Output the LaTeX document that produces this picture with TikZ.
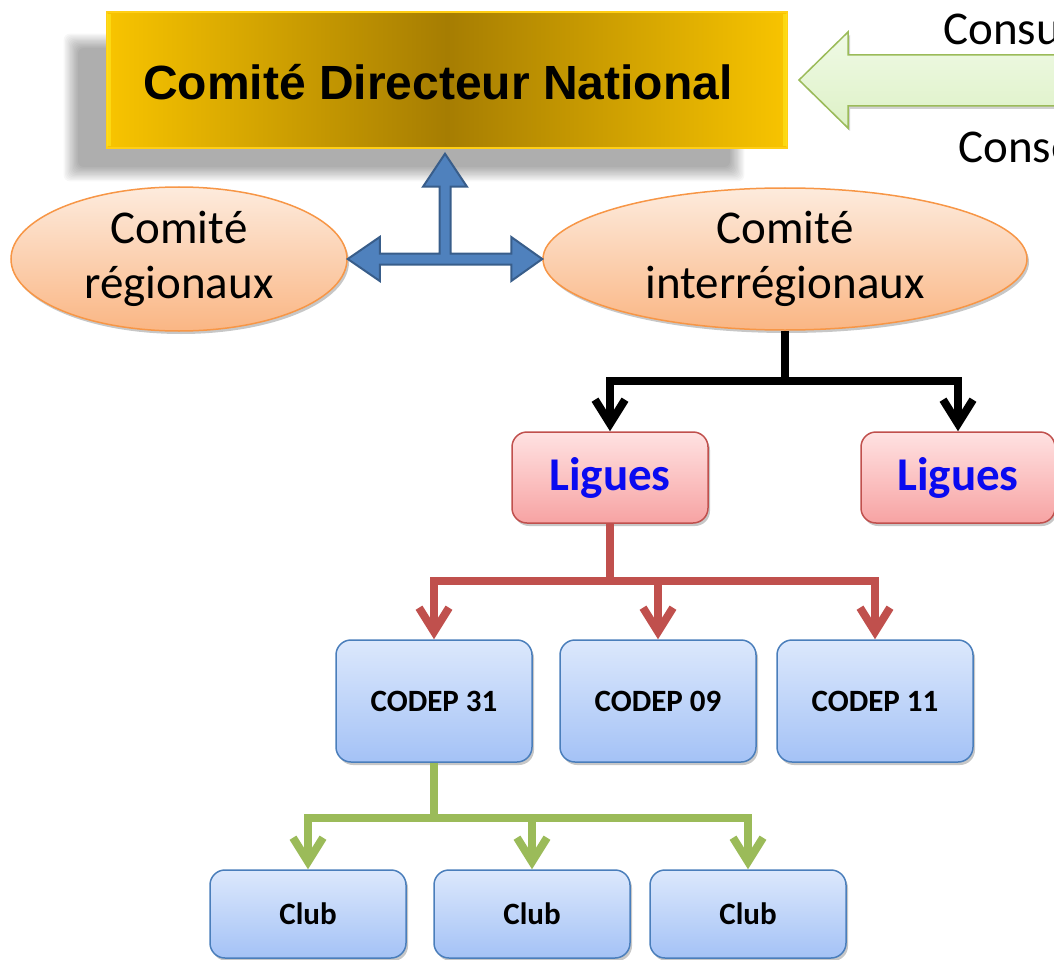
\documentclass[tikz,border=0pt]{standalone}
\usepackage{fontspec}
\setmainfont{Carlito}
\newfontfamily\arialfont{Liberation Sans}
\usetikzlibrary{shapes.geometric,arrows.meta,shadows,calc}
\definecolor{goldedge}{HTML}{F8C400}
\definecolor{golddark}{HTML}{A67D02}
\definecolor{goldbevel}{HTML}{FFE21A}
\definecolor{peachtop}{HTML}{FDEBDD}
\definecolor{peachbot}{HTML}{FAB684}
\definecolor{peachline}{HTML}{F79646}
\definecolor{pinktop}{HTML}{FFE2E2}
\definecolor{pinkbot}{HTML}{F7A3A3}
\definecolor{redline}{HTML}{C0504D}
\definecolor{bluetop}{HTML}{DCE8FC}
\definecolor{bluebot}{HTML}{A4C2F6}
\definecolor{blueline}{HTML}{4A7EBB}
\definecolor{arrowblue}{HTML}{4F81BD}
\definecolor{arrowblueline}{HTML}{385D8A}
\definecolor{greenline}{HTML}{9BBB59}
\definecolor{greenfilltop}{HTML}{F0FAE6}
\definecolor{greenfillbot}{HTML}{DDF1C6}
\definecolor{ligueblue}{HTML}{0A0AF0}
\begin{document}
\begin{tikzpicture}[x=1pt,y=-1pt,
  softshadow/.style={drop shadow={shadow xshift=2pt,shadow yshift=-3pt,opacity=0.22,fill=black}},
  cdnbox/.style={rectangle,minimum width=680pt,minimum height=136pt,inner sep=0pt,
     left color=goldedge,right color=goldedge,middle color=golddark,draw=goldbevel!80!orange,line width=1.5pt},
  cdntitle/.style={inner sep=0pt,font=\arialfont\bfseries\fontsize{48}{56}\selectfont},
  ell/.style={ellipse,minimum width=336pt,minimum height=144pt,inner sep=0pt,
     top color=peachtop,bottom color=peachbot,draw=peachline,line width=1.5pt,align=center,
     font=\fontsize{47}{55}\selectfont,softshadow},
  lig/.style={rectangle,rounded corners=15pt,minimum width=196pt,minimum height=91pt,inner sep=0pt,
     top color=pinktop,bottom color=pinkbot,draw=redline,line width=1.5pt,
     font=\bfseries\fontsize{47}{55}\selectfont,text=ligueblue,softshadow},
  cod/.style={rectangle,rounded corners=15pt,minimum width=196pt,minimum height=122pt,inner sep=0pt,
     top color=bluetop,bottom color=bluebot,draw=blueline,line width=1.5pt,
     font=\bfseries\fontsize{31}{36}\selectfont,softshadow},
  club/.style={cod,minimum height=88pt},
  conn/.style={line width=8pt,-{Straight Barb[length=24pt,width=30pt]}},
  blk/.style={conn,draw=black},
  redc/.style={conn,draw=redline},
  grnc/.style={conn,draw=greenline},
  sidetext/.style={font=\fontsize{47}{55}\selectfont,inner sep=0pt,anchor=base west}
]
\useasboundingbox (0,0) rectangle (1054,960);
\clip (0,0) rectangle (1054,960);
% soft shadow of the national box
\foreach \k in {0,...,11}{
  \fill[black,opacity=0.03,rounded corners=6pt] (78-\k*1.3,48-\k*1.3) rectangle (730+\k*1.3,167+\k*1.3);
}
\node[cdnbox] (cdn) at (447,80) {};
\draw[goldbevel,line width=4pt,opacity=0.7] ($(cdn.south west)+(3,-3)$) -- ($(cdn.north west)+(3,3)$);
\draw[goldbevel,line width=4pt,opacity=0.7] ($(cdn.south east)+(-3,-3)$) -- ($(cdn.north east)+(-3,3)$);
\node[cdntitle] (cdntext) at ($(cdn.center)+(-9,2)$) {Comité Directeur National};
% green big arrow
\fill[black,opacity=0.18] (801,83) -- (850,35) -- (850,58) -- (1060,58) -- (1060,109) -- (850,109) -- (850,131) -- cycle;
\draw[greenline,line width=1.5pt,top color=greenfilltop,bottom color=greenfillbot]
  (799,80) -- (848,32) -- (848,55) -- (1060,55) -- (1060,106) -- (848,106) -- (848,128) -- cycle;
\node[sidetext] (consu) at (943,45) {Consu};
\node[sidetext] (conse) at (958,163) {Conse};
% ellipses
\node[ell] (reg) at (179,259) {Comité\\régionaux};
\node[ell,minimum width=484pt,minimum height=142pt] (inter) at (785,259) {Comité\\interrégionaux};
% blue quad arrow
\draw[arrowblueline,fill=arrowblue,line width=2pt,line join=miter]
  (cdn.south) ++(-2,5) coordinate (tipU)
  (tipU) -- ++(22,33) -- ++(-16.5,0) |- ($(inter.west)+(-31,-5.5)$) -- ++(0,-16.5)
  -- (inter.west) -- ++(-31,22) -- ++(0,-16.5) -- ($(reg.east)+(32,5.5)$) -- ++(0,16.5)
  -- (reg.east) -- ++(32,-22) -- ++(0,16.5) -| ($(tipU)+(-5.5,33)$) -- ++(-16.5,0) -- cycle;
% ligues
\node[lig] (l1) at (610,477.5) {Ligues};
\node[lig,minimum width=194pt] (l2) at (958,477.5) {Ligues};
% codep
\node[cod] (c1) at (434,701) {CODEP 31};
\node[cod] (c2) at (658,701) {CODEP 09};
\node[cod] (c3) at (875,701) {CODEP 11};
% clubs
\node[club] (k1) at (308,914) {Club};
\node[club] (k2) at (532,914) {Club};
\node[club] (k3) at (748,914) {Club};
% connectors
\draw[blk] (inter.south) -- ++(0,50) -| (l1.north);
\draw[blk] (inter.south) -- ++(0,50) -| (l2.north);
\draw[redc] (l1.south) -- ++(0,57) -| (c1.north);
\draw[redc] (l1.south) -- ++(0,57) -| (c2.north);
\draw[redc] (l1.south) -- ++(0,57) -| (c3.north);
\draw[grnc] (c1.south) -- ++(0,55) -| (k1.north);
\draw[grnc] (c1.south) -- ++(0,55) -| (k2.north);
\draw[grnc] (c1.south) -- ++(0,55) -| (k3.north);
\end{tikzpicture}
\end{document}
